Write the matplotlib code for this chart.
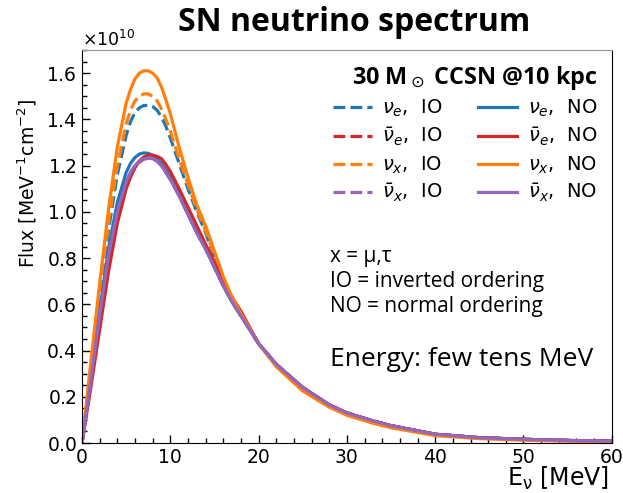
import numpy as np
import matplotlib
matplotlib.use('Agg')
import matplotlib.pyplot as plt
from matplotlib.ticker import MultipleLocator, ScalarFormatter

# energies [MeV] and fluxes [1e10 MeV^-1 cm^-2]
energy = [0, 1, 2, 3, 4, 5, 5.5, 6, 6.5, 7, 7.5, 8, 8.5, 9, 9.5, 10,
          11, 12, 13, 14, 15, 16, 17, 18,
          20, 22, 25, 28, 30, 33, 35, 40, 45, 50, 55, 60]

tail = [0.43, 0.34, 0.24, 0.165, 0.13, 0.095, 0.075, 0.038, 0.023, 0.016, 0.011, 0.008]
tail_x = [0.43, 0.33, 0.225, 0.155, 0.12, 0.085, 0.066, 0.032, 0.019, 0.012, 0.008, 0.005]

nue_io = [0, 0.31, 0.62, 0.92, 1.16, 1.33, 1.39, 1.43, 1.45, 1.46, 1.46, 1.455, 1.44, 1.41, 1.37, 1.32,
          1.21, 1.10, 1.00, 0.91, 0.80, 0.70, 0.62, 0.56] + tail
nuebar_io = [0, 0.26, 0.52, 0.78, 0.98, 1.11, 1.16, 1.195, 1.215, 1.228, 1.232, 1.23, 1.22, 1.20, 1.175, 1.145,
             1.08, 1.00, 0.92, 0.85, 0.77, 0.69, 0.62, 0.56] + tail
nux_io = [0, 0.32, 0.64, 0.95, 1.20, 1.38, 1.44, 1.48, 1.50, 1.51, 1.51, 1.50, 1.48, 1.445, 1.40, 1.35,
          1.23, 1.12, 1.01, 0.92, 0.81, 0.71, 0.63, 0.56] + tail
nuxbar_io = [0, 0.27, 0.55, 0.81, 1.00, 1.13, 1.17, 1.20, 1.22, 1.23, 1.232, 1.23, 1.22, 1.20, 1.17, 1.14,
             1.07, 0.99, 0.91, 0.84, 0.76, 0.68, 0.61, 0.55] + tail

nue_no = [0, 0.28, 0.57, 0.84, 1.04, 1.17, 1.21, 1.235, 1.25, 1.255, 1.253, 1.245, 1.23, 1.21, 1.18, 1.15,
          1.07, 0.99, 0.91, 0.84, 0.76, 0.68, 0.61, 0.55] + tail
nuebar_no = [0, 0.24, 0.49, 0.74, 0.95, 1.10, 1.15, 1.19, 1.22, 1.237, 1.245, 1.245, 1.24, 1.23, 1.205, 1.175,
             1.10, 1.02, 0.94, 0.86, 0.78, 0.70, 0.63, 0.57] + tail
nux_no = [0, 0.35, 0.69, 1.01, 1.28, 1.47, 1.53, 1.575, 1.60, 1.61, 1.61, 1.60, 1.58, 1.54, 1.485, 1.425,
          1.28, 1.15, 1.03, 0.94, 0.83, 0.72, 0.63, 0.56] + tail_x
nuxbar_no = [0, 0.27, 0.55, 0.81, 1.00, 1.13, 1.17, 1.20, 1.22, 1.23, 1.232, 1.23, 1.22, 1.20, 1.17, 1.14,
             1.07, 0.99, 0.91, 0.84, 0.76, 0.68, 0.61, 0.55] + tail

scale = 1e10
c_blue, c_red, c_orange, c_purple = '#1f77b4', '#d62728', '#ff7f0e', '#9467bd'

fig = plt.figure(figsize=(6.23, 4.93), dpi=100)
ax = fig.add_axes([0.1316, 0.1014, 0.8504, 0.7972])

E = np.array(energy)
series = [
    (nue_io, c_blue, '--', r'$\nu_e$,  IO'),
    (nuebar_io, c_red, '--', r'$\bar{\nu}_e$,  IO'),
    (nux_io, c_orange, '--', r'$\nu_x$,  IO'),
    (nuxbar_io, c_purple, '--', r'$\bar{\nu}_x$,  IO'),
    (nue_no, c_blue, '-', r'$\nu_e$,  NO '),
    (nuebar_no, c_red, '-', r'$\bar{\nu}_e$,  NO '),
    (nux_no, c_orange, '-', r'$\nu_x$,  NO '),
    (nuxbar_no, c_purple, '-', r'$\bar{\nu}_x$,  NO '),
]
for vals, col, ls, lab in series:
    ax.plot(E, np.array(vals) * scale, color=col, ls=ls, lw=2.3, label=lab)

ax.set_xlim(0, 60)
ax.set_ylim(0, 1.7e10)
ax.xaxis.set_major_locator(MultipleLocator(10))
ax.xaxis.set_minor_locator(MultipleLocator(2))
ax.yaxis.set_major_locator(MultipleLocator(0.2e10))
ax.yaxis.set_minor_locator(MultipleLocator(0.05e10))
fmt = ScalarFormatter(useMathText=True)
fmt.set_powerlimits((0, 0))
ax.yaxis.set_major_formatter(fmt)
ax.yaxis.get_offset_text().set_fontsize(12.5)
ax.tick_params(which='both', direction='in', labelsize=13.5)
ax.tick_params(which='major', length=6, width=1)
ax.tick_params(which='minor', length=3.5, width=1)
ax.spines['top'].set_color('#999999')

ax.set_ylabel(r'Flux [MeV$^{-1}$cm$^{-2}$]', fontsize=13.5)
ax.yaxis.set_label_coords(-0.082, 0.66)
ax.set_xlabel(r'E$_\mathrm{\nu}$ [MeV]', fontsize=17)
ax.xaxis.set_label_coords(0.995, -0.056)
ax.xaxis.label.set_horizontalalignment('right')

leg = ax.legend(ncol=2, frameon=False, fontsize=14, loc='upper right',
                bbox_to_anchor=(1.0, 1.0), borderaxespad=0.3,
                handlelength=2.0, handletextpad=0.55, columnspacing=1.8,
                labelspacing=0.33,
                title=r'30 M$_\odot$ CCSN @10 kpc',
                title_fontproperties={'family': 'Open Sans', 'weight': 'bold', 'size': 16.8})
leg._legend_box.align = 'right'

notes = ['x = μ,τ', 'IO = inverted ordering', 'NO = normal ordering']
for i, s in enumerate(notes):
    fig.text(330 / 623, 1 - (262 + 25 * i) / 493, s, family='Open Sans',
             fontsize=15, va='baseline')
fig.text(330 / 623, 1 - 366 / 493, 'Energy: few tens MeV', family='Open Sans',
         fontsize=19, va='baseline')

fig.text(0.568, 0.955, 'SN neutrino spectrum', ha='center', va='center',
         family='Open Sans', weight='bold', fontsize=23)

fig.savefig('out.png', dpi=100)
